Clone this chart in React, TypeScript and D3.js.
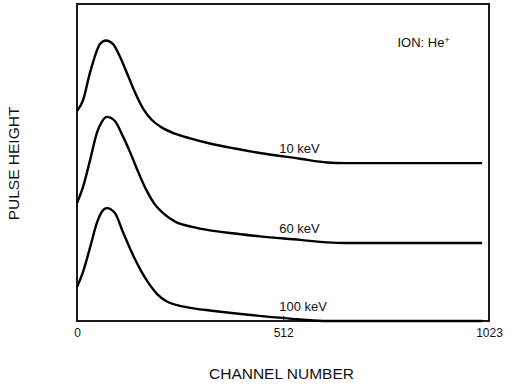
import React, { useEffect, useRef } from "react";
import * as d3 from "d3";

// Channel numbers (x) and pulse heights (arbitrary units, 0-100)
const channels10 = [0, 15, 32, 50, 57, 72, 89, 107, 127, 147, 166, 186, 211, 243, 281, 330, 392, 454, 554, 621, 666, 1006];
const pulse10 = [66.2, 69.7, 78.2, 85.5, 87.4, 88.5, 87.4, 83.3, 77.3, 71.3, 66.6, 63.4, 61.0, 59.1, 57.6, 56.0, 54.4, 53.0, 51.2, 50.0, 49.8, 49.8];

const channels60 = [0, 15, 32, 50, 62, 74, 94, 112, 132, 151, 171, 191, 216, 246, 286, 330, 392, 454, 554, 621, 666, 1006];
const pulse60 = [37.2, 42.3, 50.5, 59.6, 62.9, 64.4, 63.1, 58.8, 53.2, 47.3, 41.6, 37.2, 33.8, 31.2, 29.7, 28.6, 27.6, 26.7, 25.6, 24.8, 24.6, 24.6];

const channels100 = [0, 15, 32, 50, 62, 74, 94, 114, 139, 159, 179, 199, 221, 251, 293, 330, 454, 554, 621, 1006];
const pulse100 = [10.7, 15.5, 23.0, 31.2, 34.5, 35.6, 34.1, 28.1, 20.8, 15.8, 11.7, 8.5, 6.3, 4.9, 3.9, 3.3, 1.6, 0.5, 0.0, 0.0];

const seriesLabels = ["10 keV", "60 keV", "100 keV"];
const xTicks = [0, 512, 1023];
const xTitle = "CHANNEL NUMBER";
const yTitle = "PULSE HEIGHT";
const ionLabel = "ION: He";
const ionSup = "+";

const W = 527;
const H = 392;
const FONT = "'Liberation Sans', Arial, Helvetica, sans-serif";

export default function App() {
  const ref = useRef<SVGSVGElement | null>(null);

  useEffect(() => {
    const svg = d3.select(ref.current);
    svg.selectAll("*").remove();

    const x = d3.scaleLinear().domain([0, 1023]).range([77, 489]);
    const y = d3.scaleLinear().domain([0, 100]).range([321, 4]);

    const series = [
      { xs: channels10, ys: pulse10, label: seriesLabels[0] },
      { xs: channels60, ys: pulse60, label: seriesLabels[1] },
      { xs: channels100, ys: pulse100, label: seriesLabels[2] },
    ];

    const line = d3
      .line<[number, number]>()
      .x((d) => x(d[0]))
      .y((d) => y(d[1]))
      .curve(d3.curveMonotoneX);

    // frame
    svg
      .append("rect")
      .attr("x", x(0))
      .attr("y", y(100))
      .attr("width", x(1023) - x(0))
      .attr("height", y(0) - y(100))
      .attr("fill", "none")
      .attr("stroke", "#1a1a1a")
      .attr("stroke-width", 2);

    // x axis
    const axis = d3
      .axisBottom(x)
      .tickValues(xTicks)
      .tickSize(-5)
      .tickPadding(7)
      .tickFormat((d) => String(d));
    const g = svg.append("g").attr("transform", `translate(0,${y(0)})`).call(axis);
    g.select(".domain").remove();
    g.selectAll(".tick line").attr("stroke", "#1a1a1a").attr("stroke-width", 1);
    g.selectAll(".tick text")
      .attr("font-family", FONT)
      .attr("font-size", 12)
      .attr("fill", "#111");

    // curves
    series.forEach((s) => {
      const pts: [number, number][] = s.xs.map((c, i) => [c, s.ys[i]]);
      svg
        .append("path")
        .attr("d", line(pts) as string)
        .attr("fill", "none")
        .attr("stroke", "#000")
        .attr("stroke-width", 2.4)
        .attr("stroke-linejoin", "round");
      const flat = s.ys[s.ys.length - 1];
      svg
        .append("text")
        .attr("x", x(502))
        .attr("y", y(flat) - 10)
        .attr("font-family", FONT)
        .attr("font-size", 13)
        .attr("fill", "#111")
        .text(s.label);
    });

    // ion label
    const ion = svg
      .append("text")
      .attr("x", 397.5)
      .attr("y", 46.5)
      .attr("font-family", FONT)
      .attr("font-size", 13)
      .attr("fill", "#111");
    ion.append("tspan").text(ionLabel);
    ion.append("tspan").attr("dy", -4).attr("font-size", 9).text(ionSup);

    // axis titles
    svg
      .append("text")
      .attr("x", 281.5)
      .attr("y", 379)
      .attr("text-anchor", "middle")
      .attr("font-family", FONT)
      .attr("font-size", 15.5)
      .attr("fill", "#111")
      .text(xTitle);

    svg
      .append("text")
      .attr("transform", `translate(18.5,163.5) rotate(-90)`)
      .attr("text-anchor", "middle")
      .attr("font-family", FONT)
      .attr("font-size", 15.5)
      .attr("fill", "#111")
      .text(yTitle);
  }, []);

  return (
    <svg
      ref={ref}
      width={W}
      height={H}
      style={{ position: "absolute", left: 0, top: 0, background: "#fff" }}
    />
  );
}
